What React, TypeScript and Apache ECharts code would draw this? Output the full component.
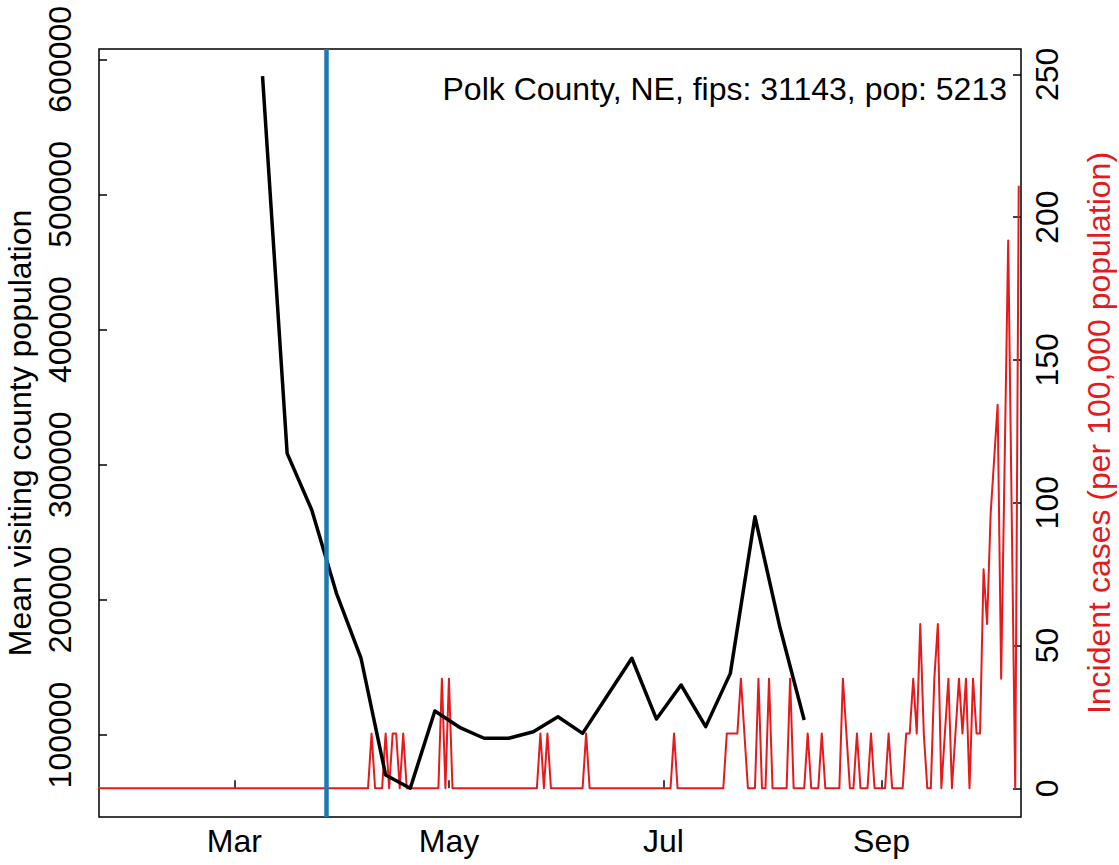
import React, { useEffect, useRef } from "react";
import * as echarts from "echarts";

// ---- data ----
const seriesStart = "2020-01-22"; // first day of the daily incidence series
// daily incident cases per 100,000 population (Polk County, NE)
const incidence: number[] = [
  0, 0, 0, 0, 0, 0, 0, 0, 0, 0,
  0, 0, 0, 0, 0, 0, 0, 0, 0, 0,
  0, 0, 0, 0, 0, 0, 0, 0, 0, 0,
  0, 0, 0, 0, 0, 0, 0, 0, 0, 0,
  0, 0, 0, 0, 0, 0, 0, 0, 0, 0,
  0, 0, 0, 0, 0, 0, 0, 0, 0, 0,
  0, 0, 0, 0, 0, 0, 0, 0, 0, 0,
  0, 0, 0, 0, 0, 0, 0, 0, 19.2, 0,
  0, 0, 19.2, 0, 19.2, 19.2, 0, 19.2, 0, 0,
  0, 0, 0, 0, 0, 0, 0, 0, 38.4, 0,
  38.4, 0, 0, 0, 0, 0, 0, 0, 0, 0,
  0, 0, 0, 0, 0, 0, 0, 0, 0, 0,
  0, 0, 0, 0, 0, 0, 19.2, 0, 19.2, 0,
  0, 0, 0, 0, 0, 0, 0, 0, 0, 19.2,
  0, 0, 0, 0, 0, 0, 0, 0, 0, 0,
  0, 0, 0, 0, 0, 0, 0, 0, 0, 0,
  0, 0, 0, 0, 19.2, 0, 0, 0, 0, 0,
  0, 0, 0, 0, 0, 0, 0, 0, 0, 19.2,
  19.2, 19.2, 19.2, 38.4, 19.2, 0, 0, 0, 38.4, 0,
  0, 38.4, 0, 0, 0, 0, 0, 38.4, 0, 0,
  0, 0, 19.2, 0, 0, 0, 19.2, 0, 0, 0,
  0, 0, 38.4, 19.2, 0, 0, 19.2, 0, 0, 0,
  19.2, 0, 0, 0, 0, 19.2, 0, 0, 0, 0,
  19.2, 19.2, 38.4, 19.2, 57.5, 19.2, 0, 0, 38.4, 57.5,
  0, 19.2, 38.4, 0, 19.2, 38.4, 19.2, 38.4, 0, 38.4,
  19.2, 19.2, 76.7, 57.5, 95.9, 115.1, 134.3, 38.4, 115.1, 191.8,
  95.9, 0, 211.0,
];

// weekly mean visiting county population
const visitDates = [
  "2020-03-09", "2020-03-16", "2020-03-23", "2020-03-30", "2020-04-06",
  "2020-04-13", "2020-04-20", "2020-04-27", "2020-05-04", "2020-05-11",
  "2020-05-18", "2020-05-25", "2020-06-01", "2020-06-08", "2020-06-15",
  "2020-06-22", "2020-06-29", "2020-07-06", "2020-07-13", "2020-07-20",
  "2020-07-27", "2020-08-03", "2020-08-10",
];
const visitPop = [
  587600, 308400, 266500, 205000, 156800,
  70400, 60600, 117800, 105700, 97600,
  97600, 102400, 113500, 101200, 129000,
  156800, 111800, 137000, 106200, 145600,
  261500, 180700, 111100,
];

const interventionDate = "2020-03-27";
const monthTicks = ["2020-03-01", "2020-05-01", "2020-07-01", "2020-09-01"];
const monthNames = ["Jan", "Feb", "Mar", "Apr", "May", "Jun", "Jul", "Aug", "Sep", "Oct", "Nov", "Dec"];
const leftTicks = [100000, 200000, 300000, 400000, 500000, 600000];
const rightTicks = [0, 50, 100, 150, 200, 250];
const titleText = "Polk County, NE, fips: 31143, pop: 5213";

const DAY = 86400000;
const ts = (s: string) => {
  const [y, m, d] = s.split("-").map(Number);
  return Date.UTC(y, m - 1, d);
};

export default function App() {
  const ref = useRef<HTMLDivElement>(null);
  useEffect(() => {
    document.body.style.margin = "0";
    if (!ref.current) return;
    const chart = echarts.init(ref.current, null, { renderer: "svg" });
    const start = ts(seriesStart);
    const redData = incidence.map((v, i) => [start + i * DAY, v]);
    const blackData = visitDates.map((d, i) => [ts(d), visitPop[i]]);
    const font = "Liberation Sans, Arial, Helvetica, sans-serif";
    const fs = 32;
    chart.setOption({
      animation: false,
      backgroundColor: "#ffffff",
      textStyle: { fontFamily: font },
      grid: {
        left: 99,
        right: 98,
        top: 49,
        bottom: 48,
        containLabel: false,
        outerBoundsMode: "none",
        show: true,
        borderColor: "#000",
        borderWidth: 1.5,
        backgroundColor: "transparent",
      },
      graphic: [
        {
          type: "text",
          right: 112,
          top: 73,
          style: {
            text: titleText,
            fontSize: fs,
            fontFamily: font,
            fill: "#000",
          },
          z: 100,
        },
      ],
      xAxis: {
        type: "value",
        min: start + 0.51 * DAY,
        max: start + 262.64 * DAY,
        axisLine: { show: false },
        splitLine: { show: false },
        axisTick: {
          show: true,
          inside: true,
          length: 8,
          customValues: monthTicks.map(ts),
          lineStyle: { color: "#000", width: 1.5 },
        },
        axisLabel: {
          customValues: monthTicks.map(ts),
          formatter: (v: number) => monthNames[new Date(v).getUTCMonth()],
          fontSize: fs,
          fontFamily: font,
          color: "#000",
          margin: 8,
        },
      },
      yAxis: [
        {
          type: "value",
          position: "left",
          min: 39322,
          max: 607622,
          name: "Mean visiting county population",
          nameLocation: "middle",
          nameRotate: 90,
          nameGap: 62,
          nameTextStyle: { fontSize: fs, fontFamily: font, color: "#000" },
          axisLine: { show: false },
          splitLine: { show: false },
          axisTick: {
            show: true,
            inside: true,
            length: 8,
            customValues: leftTicks,
            lineStyle: { color: "#000", width: 1.5 },
          },
          axisLabel: {
            customValues: leftTicks,
            formatter: (v: number) => String(v),
            rotate: 90,
            fontSize: fs,
            fontFamily: font,
            color: "#000",
            margin: 23,
          },
        },
        {
          type: "value",
          position: "right",
          min: -10.05,
          max: 258.86,
          name: "Incident cases (per 100,000 population)",
          nameLocation: "middle",
          nameRotate: 90,
          nameGap: 62,
          nameTextStyle: { fontSize: fs, fontFamily: font, color: "#E41A1C" },
          axisLine: { show: false },
          splitLine: { show: false },
          axisTick: {
            show: true,
            inside: true,
            length: 8,
            customValues: rightTicks,
            lineStyle: { color: "#000", width: 1.5 },
          },
          axisLabel: {
            customValues: rightTicks,
            formatter: (v: number) => String(v),
            rotate: 90,
            fontSize: fs,
            fontFamily: font,
            color: "#000",
            margin: 10,
          },
        },
      ],
      series: [
        {
          type: "line",
          name: "incidence",
          yAxisIndex: 1,
          data: redData,
          showSymbol: false,
          lineStyle: { color: "#E41A1C", width: 2, join: "round" },
          z: 2,
          clip: true,
        },
        {
          type: "line",
          name: "visitors",
          yAxisIndex: 0,
          data: blackData,
          showSymbol: false,
          lineStyle: { color: "#000", width: 3.5, join: "round" },
          z: 3,
          clip: true,
          markLine: {
            silent: true,
            symbol: ["none", "none"],
            label: { show: false },
            lineStyle: { color: "#1F78B4", width: 4.5, type: "solid" },
            data: [{ xAxis: ts(interventionDate) }],
            z: 5,
          },
        },
      ],
    });
    return () => chart.dispose();
  }, []);
  return <div ref={ref} style={{ width: 1119, height: 865 }} />;
}
